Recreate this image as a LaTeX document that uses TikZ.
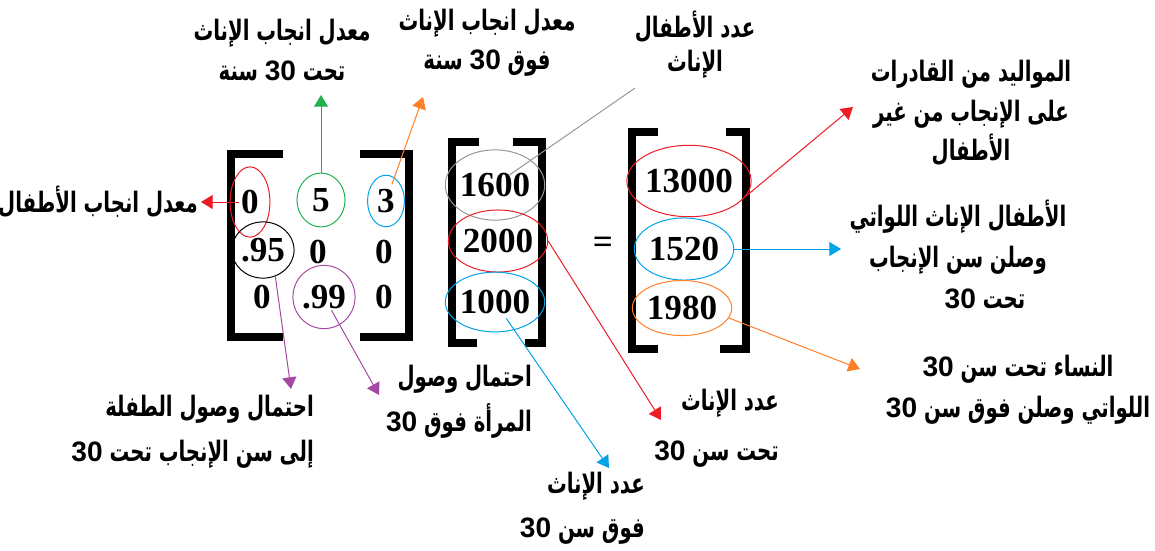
\documentclass[tikz,border=0pt]{standalone}
\usepackage{fontspec}
\setmainfont{Liberation Serif}
\newfontfamily\arabicfont[Script=Arabic,FakeStretch=0.7]{DejaVu Sans}
\newfontfamily\digitfont{Liberation Sans}
\TeXXeTstate=1
\usetikzlibrary{arrows.meta,shapes.geometric}
\definecolor{pred}{RGB}{237,28,36}
\definecolor{pgreen}{RGB}{34,177,76}
\definecolor{pblue}{RGB}{0,162,232}
\definecolor{porange}{RGB}{255,127,39}
\definecolor{ppurple}{RGB}{163,73,164}
\definecolor{pgray}{RGB}{150,150,150}
\newcommand{\rtl}[1]{\beginR #1\endR}
\newcommand{\ltr}[1]{\beginL{\digitfont\bfseries #1}\endL{}}
\begin{document}
\begin{tikzpicture}[x=0.03cm,y=-0.03cm,>={Triangle[width=12pt,length=10pt]},line join=round,
	lbl/.style={font=\arabicfont\bfseries\fontsize{24}{#1}\selectfont,align=center,inner sep=0pt},
	lbl/.default=34pt,
	num/.style={font=\bfseries\fontsize{30}{30}\selectfont,inner sep=0pt},
	ring/.style={num,ellipse,draw=#1,line width=0.85pt},
	con/.style={draw=#1,line width=0.85pt,->},
	brk/.style={line width=7pt,line cap=butt,line join=miter}]
	\useasboundingbox (0,0) rectangle (1155,550);
	\draw[brk] (283,154) -- (231,154) -- (231,337) -- (283,337);
	\draw[brk] (360,154) -- (409,154) -- (409,337) -- (360,337);
	\draw[brk] (479,142) -- (452,142) -- (452,343) -- (477,343);
	\draw[brk] (513,142) -- (542,142) -- (542,343) -- (525,343);
	\draw[brk] (658,132) -- (632,132) -- (632,349) -- (658,349);
	\draw[brk] (726,132) -- (746,132) -- (746,349) -- (720,349);
	\node[ring=pred,minimum width=34pt,minimum height=60pt] (e0) at (250,202) {0};
	\node[ring=pgreen,minimum width=41pt,minimum height=46pt] (e5) at (321,200) {5};
	\node[ring=pblue,minimum width=31.5pt,minimum height=44pt] (e3) at (386,201) {3};
	\node[ring=black,minimum width=47pt,minimum height=48pt] (e95) at (263,250) {.95};
	\node[num] (a22) at (318,252) {0};
	\node[num] (a23) at (384,252) {0};
	\node[num] (a31) at (262,297) {0};
	\node[ring=ppurple,minimum width=42.5pt,minimum height=54pt] (e99) at (324,297) {.99};
	\node[num] (a33) at (384,297) {0};
	\node[ring=pgray,minimum width=63pt,minimum height=60pt] (e1600) at (495,185) {1600};
	\node[ring=pred,minimum width=68pt,minimum height=53pt] (e2000) at (498,241) {2000};
	\node[ring=pblue,minimum width=70pt,minimum height=51pt] (e1000) at (495,302) {1000};
	\node[num] (eq) at (603,245) {=};
	\node[ring=pred,minimum width=92pt,minimum height=61pt] (e13000) at (689,181) {13000};
	\node[ring=pblue,minimum width=71pt,minimum height=53pt] (e1520) at (684,249) {1520};
	\node[ring=porange,minimum width=76pt,minimum height=47pt] (e1980) at (682,308) {1980};
	\node[lbl,anchor=east] (l1) at (198,202) {\rtl{معدل انجاب الأطفال}};
	\node[lbl] (l2) at (282,50) {\rtl{معدل انجاب الإناث}\\\rtl{تحت \ltr{30} سنة}};
	\node[lbl=33pt] (l3) at (487,43) {\rtl{معدل انجاب الإناث}\\\rtl{فوق \ltr{30} سنة}};
	\node[lbl=29pt] (l4) at (695,45) {\rtl{عدد الأطفال}\\\rtl{الإناث}};
	\node[lbl] (l5) at (971,113) {\rtl{المواليد من القادرات}\\\rtl{على الإنجاب من غير}\\\rtl{الأطفال}};
	\node[lbl=35pt] (l6) at (958,254) {\rtl{الأطفال الإناث اللواتي}\\\rtl{وصلن سن الإنجاب}\\\hspace*{46pt}\rtl{تحت \ltr{30}}};
	\node[lbl=35pt] (l7) at (1018,390) {\rtl{النساء تحت سن \ltr{30}}\\\rtl{اللواتي وصلن فوق سن \ltr{30}}};
	\node[lbl=43pt,align=right,anchor=east] (l8) at (779,428) {\rtl{عدد الإناث}\\\rtl{تحت سن \ltr{30}}};
	\node[lbl=38pt,align=right,anchor=east] (l9) at (645,508) {\rtl{عدد الإناث}\\\rtl{فوق سن \ltr{30}}};
	\node[lbl=38pt,align=right,anchor=east] (l10) at (532,402) {\rtl{احتمال وصول}\\\rtl{المرأة فوق \ltr{30}}};
	\node[lbl=38pt,align=right,anchor=east] (l11) at (314,432) {\rtl{احتمال وصول الطفلة}\\\rtl{إلى سن الإنجاب تحت \ltr{30}}};
	\coordinate (t1) at (201,202);
	\coordinate (t2) at (321,95);
	\coordinate (t3) at (423,97);
	\coordinate (g4) at (635,88);
	\coordinate (t5) at (853,107);
	\coordinate (t6) at (841,249);
	\coordinate (t7) at (860,369);
	\coordinate (t8) at (661,420);
	\coordinate (t9) at (609,468);
	\coordinate (t10) at (379,395);
	\coordinate (t11) at (291,389);
	\draw[con=pred,shorten <=9pt] (e0.center) -- (t1);
	\draw[con=pgreen] (e5.north) -- (t2);
	\draw[con=porange,shorten <=15pt] (e3.center) -- (t3);
	\draw[pgray,line width=0.85pt,shorten <=15pt] (e1600.center) -- (g4);
	\draw[con=pred] (e13000.-15) -- (t5);
	\draw[con=pblue] (e1520.east) -- (t6);
	\draw[con=porange] (e1980.-12) -- (t7);
	\draw[con=pred] (e2000.east) -- (t8);
	\draw[con=pblue,shorten <=17pt] (e1000.center) -- (t9);
	\draw[con=ppurple,shorten <=13pt] (e99.center) -- (t10);
	\draw[con=ppurple] (e95.-65) -- (t11);
\end{tikzpicture}
\end{document}
